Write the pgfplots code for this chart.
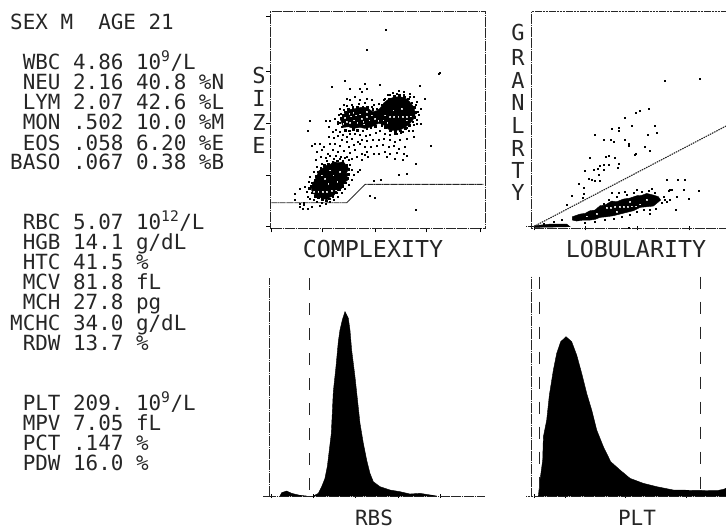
\documentclass[border=0pt]{standalone}
\usepackage{fontspec}
\setmonofont{DejaVu Sans Mono}
\usepackage{pgfplots}
\pgfplotsset{compat=1.18}
\definecolor{ink}{gray}{0.15}
\newcommand{\Tx}[2]{\node[anchor=base west,inner sep=0pt,text=ink] at (10pt,-#1pt-7.5pt) {\ttfamily\fontsize{20.9}{21}\selectfont #2};}
\newcommand{\Lb}[4]{\node[inner sep=0pt,text=ink] at (#1pt,-#2pt) {\ttfamily\fontsize{#3}{#3}\selectfont #4};}
\pgfplotsset{panel/.style={
  scale only axis, anchor=north west, clip=false,
  y dir=reverse, tick align=outside, major tick length=4pt,
  xticklabels={}, yticklabels={},
  xtick pos=bottom, ytick pos=left,
  tick style={black,line width=0.7pt},
  axis line style={ink,line width=0.9pt,dash pattern=on 1.6pt off 0.25pt},
  }, 
  dots/.style={only marks,mark=square*,mark size=0.38pt,black,mark options={draw=none,fill=black!80}},
  dense/.style={only marks,mark=square*,mark size=0.9pt,black,mark options={draw=none,fill=black}},
  speck/.style={only marks,mark=square*,mark size=0.35pt,white,mark options={draw=none,fill=white,opacity=0.75}},
  rough/.style={ink,line width=0.9pt,dash pattern=on 1.2pt off 0.35pt},
  dash/.style={ink,line width=0.8pt,dash pattern=on 12pt off 13pt}}
\begin{document}
\begin{tikzpicture}[x=1pt,y=1pt]
\path[use as bounding box] (0,0) rectangle (726pt,-531pt);
\Tx{22}{SEX~M~~AGE~21}
\Tx{62}{~WBC~4.86~10\textsuperscript{9}/L}
\Tx{82}{~NEU~2.16~40.8~\%N}
\Tx{102}{~LYM~2.07~42.6~\%L}
\Tx{122}{~MON~.502~10.0~\%M}
\Tx{143}{~EOS~.058~6.20~\%E}
\Tx{162}{BASO~.067~0.38~\%B}
\Tx{222}{~RBC~5.07~10\textsuperscript{12}/L}
\Tx{242}{~HGB~14.1~g/dL}
\Tx{262}{~HTC~41.5~\%}
\Tx{282}{~MCV~81.8~fL}
\Tx{302}{~MCH~27.8~pg}
\Tx{323}{MCHC~34.0~g/dL}
\Tx{343}{~RDW~13.7~\%}
\Tx{403}{~PLT~209.~10\textsuperscript{9}/L}
\Tx{423}{~MPV~7.05~fL}
\Tx{443}{~PCT~.147~\%}
\Tx{463}{~PDW~16.0~\%}
\Lb{259}{75}{22}{S}\Lb{259}{98}{22}{I}\Lb{259}{122}{22}{Z}\Lb{259}{145}{22}{E}
\Lb{518}{32}{22}{G}\Lb{518}{57}{22}{R}\Lb{518}{80}{22}{A}\Lb{518}{102}{22}{N}
\Lb{518}{125}{22}{L}\Lb{518}{148}{22}{R}\Lb{518}{170}{22}{T}\Lb{518}{192}{22}{Y}
\Lb{373}{249}{23.3}{COMPLEXITY}
\Lb{636}{249}{23.3}{LOBULARITY}
\Lb{374}{518}{21}{RBS}
\Lb{637}{518}{21}{PLT}
% ---- scatter: SIZE / COMPLEXITY
\begin{axis}[panel,at={(270pt,-11.7pt)},width=215pt,height=216.7pt,
  xmin=60,xmax=705,ymin=35,ymax=685,
  xtick={65,218,375,530,690},ytick={50,215,370,525,680}]
\addplot[fill=black,draw=black] coordinates {(183,562)(190,548)(197,535)(207,512)(215,508)(225,497)(240,494)(250,485)(265,488)(280,485)(296,505)(290,518)(293,540)(283,548)(275,565)(262,572)(250,588)(238,592)(230,600)(218,594)(205,592)(187,578)} --cycle;
\addplot[fill=black,draw=black] coordinates {(272,360)(282,342)(290,335)(302,328)(320,325)(333,322)(345,322)(358,328)(368,335)(380,332)(390,325)(402,308)(415,298)(430,292)(445,290)(460,292)(472,298)(483,310)(492,322)(495,338)(495,350)(487,362)(478,372)(465,382)(450,390)(435,390)(422,392)(408,382)(398,372)(385,370)(370,378)(358,382)(345,385)(330,382)(310,385)(295,380)(280,382)} --cycle;
\addplot[rough] coordinates {(60,608)(290,608)(345,553)(700,553)};
\addplot[dense] coordinates {
(182,558)(186,548)(194,540)(198,528)(204,515)(212,505)(222,496)(235,492)(248,485)(262,482)(278,484)(290,495)(296,508)(294,522)(292,535)(285,548)(278,558)(268,568)(258,578)(248,588)(238,596)(228,602)(216,598)(205,592)(195,588)(187,578)(178,565)
(278,345)(272,355)(268,368)(275,380)(285,390)(298,392)(310,388)(322,390)(338,392)(350,385)(362,382)(375,378)(295,328)(285,335)(308,322)(322,322)(338,320)(352,322)(368,328)
(392,335)(398,322)(408,308)(418,296)(432,288)(448,285)(462,290)(475,296)(485,308)(492,322)(496,336)(494,352)(488,365)(478,376)(465,385)(450,392)(436,394)(420,392)(405,382)(395,375)
};
\addplot[speck] coordinates {
(285,352)(298,340)(290,365)(310,338)(330,342)(350,350)(312,360)(322,368)(340,365)(303,348)(358,360)(318,345)(342,372)(300,368)(365,345)(375,355)(385,362)(280,370)(335,355)(350,335)
(420,350)(432,349)(445,350)(458,350)(470,350)(482,348)(430,330)(455,325)(412,368)(470,360)(405,345)(400,360)
(192,575)(205,575)(218,575)(230,575)(245,572)(258,570)(225,535)(250,525)(262,545)(240,510)(270,515)(215,525)(235,550)
};
\addplot[dots] coordinates {
(350,148)(245,260)(570,217)(565,220)(407,88)(283,243)(180,362)(172,393)(497,628)(542,437)(498,492)(445,525)(470,520)(375,593)(360,587)(372,542)(392,540)(510,256)(523,297)(512,372)(390,255)(345,250)(330,265)(350,265)(300,265)(335,275)
(315,290)(330,298)(350,297)(365,300)(300,300)(290,295)(282,315)(270,325)(265,345)(255,355)(262,372)(240,362)(228,362)(235,380)(248,395)(258,390)(270,395)(278,405)(290,410)(300,400)(315,400)(330,405)(348,408)(360,405)(378,398)(390,392)(405,400)(420,405)(440,400)(458,395)(475,392)(488,392)(500,372)(505,345)(512,325)(500,305)(490,290)(478,282)(462,275)(445,272)(428,278)(412,285)(400,300)(385,310)(372,315)(292,325)
(235,410)(250,412)(262,408)(275,420)(290,425)(305,415)(322,425)(335,420)(350,422)(368,420)(385,420)(400,415)(418,420)(435,425)(450,420)(470,415)(490,410)
(185,437)(195,430)(210,432)(222,440)(240,432)(255,430)(270,438)(295,440)(310,435)(328,432)(345,440)(362,440)(380,438)(398,435)(415,440)(430,437)(445,445)(465,440)
(200,455)(215,450)(232,460)(248,450)(262,455)(280,452)(298,458)(315,450)(335,460)(350,455)(370,460)(385,460)(405,455)(420,462)(440,458)(460,460)(470,468)
(198,478)(212,470)(228,472)(240,468)(258,468)(272,470)(290,470)(305,475)(320,470)(335,478)(345,465)(352,470)(410,470)(435,475)(458,480)
(215,490)(200,500)(190,515)(180,530)(175,545)(165,560)(150,565)(135,580)(170,575)(172,590)(180,595)(190,600)(200,605)(215,608)(228,612)(240,605)(252,598)(262,590)(275,578)(285,565)(295,555)(305,540)(310,525)(322,515)(330,510)(305,510)(300,495)(295,480)(285,472)(270,475)(250,475)(230,482)
(150,620)(160,615)(158,625)(172,625)(185,620)(208,618)(150,610)(160,608)(135,598)
(262,365)(272,340)(280,330)(290,318)(305,315)(325,312)(345,308)(365,320)(380,325)(395,315)(405,295)(420,285)(440,280)(460,283)(480,290)(498,315)(503,335)(500,360)(490,375)(470,382)(452,398)(435,402)
};
\end{axis}
% ---- scatter: GRANLRTY / LOBULARITY
\begin{axis}[panel,at={(531.7pt,-11.7pt)},width=194.3pt,height=216.7pt,
  axis x line=bottom,axis y line=left,x axis line style={-},y axis line style={-},
  xmin=125,xmax=708,ymin=35,ymax=685,
  xtick={133,285,443,597},ytick={680}]
\addplot[rough] coordinates {(125,35)(708,35)};
\addplot[rough] coordinates {(108,680)(125,680)};
\addplot[fill=black,draw=black] coordinates {(247,650)(270,642)(285,640)(300,632)(315,630)(330,617)(345,615)(365,603)(380,605)(400,597)(420,594)(440,587)(455,586)(470,580)(490,585)(505,590)(512,600)(490,618)(470,620)(450,622)(430,632)(410,637)(390,642)(370,647)(350,650)(330,652)(315,658)(300,660)(280,660)(260,663)(247,660)} --cycle;
\addplot[fill=black,draw=black] coordinates {(133,677)(180,672)(230,672)(240,680)(133,682)} --cycle;
\addplot[ink,line width=1.1pt,dash pattern=on 1.5pt off 0.9pt] coordinates {(130,680)(708,378)};
\addplot[speck] coordinates {(350,622)(362,622)(375,620)(388,620)(400,620)(412,620)(425,618)(438,618)(450,612)(320,640)(290,648)(380,635)(420,605)(470,598)};
\addplot[dots] coordinates {
(523,243)(630,237)(475,326)(448,331)(437,338)(405,352)(425,376)(365,386)(385,382)(385,393)(495,376)(500,398)(472,403)(315,404)(340,420)(362,418)(372,425)(405,420)(416,430)(416,438)(465,440)(480,452)(435,465)(437,462)(298,474)(347,470)(357,468)(375,473)(385,490)(382,502)(330,497)(342,495)(355,495)(342,508)(322,507)(285,513)(312,508)(325,525)(305,540)(315,543)(330,543)(295,535)(265,552)(282,563)(280,580)(278,592)(245,587)(230,613)(530,540)(562,540)(585,540)(580,568)(625,573)(597,597)(560,590)(557,630)(540,600)(530,605)(545,570)(535,572)(485,565)(440,570)(405,575)(385,578)(365,578)(480,640)(415,683)
(520,590)(525,598)(515,608)(498,625)(478,630)(460,630)(440,635)(420,645)(395,650)(370,655)(345,660)(315,665)(285,667)(340,610)(355,600)(380,590)(410,585)(430,578)(455,575)(475,572)(495,578)(215,660)(190,665)(160,670)(540,570)
};
\end{axis}
% ---- histogram RBS
\begin{axis}[panel,at={(269.3pt,-278.3pt)},width=215.7pt,height=217.7pt,
  axis x line=bottom,axis y line=left,x axis line style={-},y axis line style={-},
  xmin=58,xmax=705,ymin=25,ymax=678,
  xtick={65,190,315,445,570},ytick=\empty]
\addplot[rough] coordinates {(40,678)(58,678)};
\addplot[fill=black,draw=black] coordinates {(90,678)(95,668)(110,663)(125,670)(150,676)(170,678)} --cycle;
\addplot[fill=black,draw=black] coordinates {(190,678)(205,670)(215,650)(225,625)(232,590)(238,540)(244,490)(250,365)(258,290)(265,215)(270,180)(277,150)(285,125)(295,145)(300,180)(305,240)(315,320)(322,385)(330,460)(340,520)(350,570)(360,610)(370,635)(390,650)(420,660)(450,665)(480,672)(510,670)(560,678)} --cycle;
\addplot[dash] coordinates {(178,25)(178,678)};
\end{axis}
% ---- histogram PLT
\begin{axis}[panel,at={(531.7pt,-276.7pt)},width=194.3pt,height=219.3pt,
  axis x line=bottom,axis y line=left,x axis line style={-},y axis line style={-},
  xmin=125,xmax=708,ymin=20,ymax=678,
  xtick={133,225,405,590},ytick=\empty]
\addplot[rough] coordinates {(108,678)(125,678)};
\addplot[fill=black,draw=black] coordinates {(145,678)(150,630)(158,570)(160,500)(170,450)(178,375)(190,300)(200,250)(212,215)(228,200)(245,215)(260,255)(275,310)(290,370)(305,420)(320,480)(340,530)(362,575)(390,600)(420,625)(460,640)(500,650)(550,660)(680,662)(700,658)(708,655)(708,678)} --cycle;
\addplot[dash] coordinates {(148,20)(148,678)};
\addplot[dash] coordinates {(632,20)(632,678)};
\end{axis}
\end{tikzpicture}
\end{document}
